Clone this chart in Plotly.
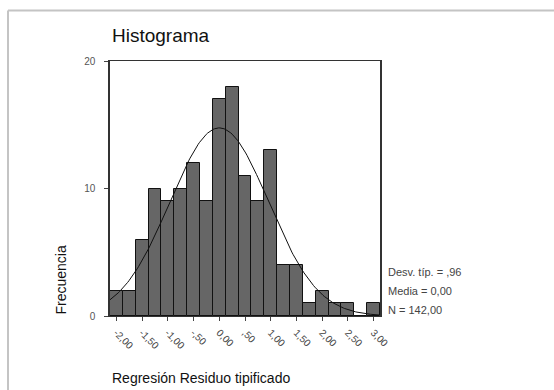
import numpy as np
import plotly.graph_objects as go

# histogram bins (centres) and counts
bin_centres = [-2.00, -1.75, -1.50, -1.25, -1.00, -0.75, -0.50, -0.25, 0.00, 0.25, 0.50,
               0.75, 1.00, 1.25, 1.50, 1.75, 2.00, 2.25, 2.50, 2.75, 3.00]
counts = [2, 2, 6, 10, 9, 10, 12, 9, 17, 18, 11, 9, 13, 4, 4, 1, 2, 1, 1, 0, 1]

tick_vals = [-2.0, -1.5, -1.0, -0.5, 0.0, 0.5, 1.0, 1.5, 2.0, 2.5, 3.0]
tick_text = ["-2,00", "-1,50", "-1,00", "-,50", "0,00", ",50", "1,00", "1,50", "2,00", "2,50", "3,00"]

# summary stats shown on the chart
media = 0.0
desv = 0.96
n_obs = 142
bin_width = 0.25

W, H = 554, 390
L, R, T, B = 110, 380, 61, 316   # plot area in pixels


def px_x(px):
    return (px - L) / (R - L)


def px_y(py):
    return (B - py) / (B - T)


# normal curve scaled to the histogram counts
xs = np.linspace(bin_centres[0] - bin_width / 2, bin_centres[-1] + bin_width / 2, 200)
ys = n_obs * bin_width / (desv * np.sqrt(2 * np.pi)) * np.exp(-0.5 * ((xs - media) / desv) ** 2)

fig = go.Figure()
fig.add_trace(go.Bar(
    x=bin_centres, y=counts, width=bin_width,
    marker=dict(color="#666666", line=dict(color="#111111", width=1)),
    hoverinfo="x+y"
))
fig.add_trace(go.Scatter(
    x=xs, y=ys, mode="lines",
    line=dict(color="#111111", width=1), hoverinfo="skip"
))

font = "Liberation Sans, Arial, sans-serif"
fig.update_layout(
    width=W, height=H,
    margin=dict(l=L, r=W - R, t=T, b=H - B),
    paper_bgcolor="white", plot_bgcolor="white",
    showlegend=False, bargap=0,
    font=dict(family=font, color="#333333"),
    xaxis=dict(
        range=[bin_centres[0] - bin_width / 2, bin_centres[-1] + bin_width / 2],
        tickvals=tick_vals, ticktext=tick_text, tickangle=45,
        ticks="outside", ticklen=4, tickcolor="#444444", ticklabelstandoff=2,
        tickfont=dict(size=10, color="#444444"),
        showline=True, mirror=True, linecolor="#333333", linewidth=1,
        showgrid=False, zeroline=False
    ),
    yaxis=dict(
        range=[0, 20], tickvals=[0, 10, 20], ticktext=["0", "10", "20"],
        ticks="outside", ticklen=4, tickcolor="#444444", ticklabelstandoff=7,
        tickfont=dict(size=10, color="#555555"),
        showline=True, mirror=True, linecolor="#333333", linewidth=1.5,
        showgrid=False, zeroline=False
    ),
)

annotations = [
    dict(text="Histograma", x=px_x(110), y=px_y(36), xanchor="left", yanchor="middle",
         font=dict(size=19, color="#111111")),
    dict(text="Frecuencia", x=px_x(60), y=px_y(317), xanchor="center", yanchor="bottom",
         textangle=-90, font=dict(size=14, color="#111111")),
    dict(text="Regresión Residuo tipificado", x=px_x(110), y=px_y(378), xanchor="left",
         yanchor="middle", font=dict(size=14, color="#111111")),
    dict(text="Desv. típ. = ,96", x=px_x(386), y=px_y(272), xanchor="left", yanchor="middle",
         font=dict(size=11, color="#444444")),
    dict(text="Media = 0,00", x=px_x(386), y=px_y(291), xanchor="left", yanchor="middle",
         font=dict(size=11, color="#444444")),
    dict(text="N = 142,00", x=px_x(386), y=px_y(310), xanchor="left", yanchor="middle",
         font=dict(size=11, color="#444444")),
]
for a in annotations:
    a.update(xref="paper", yref="paper", showarrow=False)
fig.update_layout(annotations=annotations)

# light grey outer frame (left and top edges)
fig.add_shape(type="line", xref="paper", yref="paper",
              x0=px_x(8), x1=px_x(8), y0=px_y(10.5), y1=px_y(H + 5),
              line=dict(color="#c4c4c4", width=2))
fig.add_shape(type="line", xref="paper", yref="paper",
              x0=px_x(8), x1=px_x(W + 5), y0=px_y(10.5), y1=px_y(10.5),
              line=dict(color="#c4c4c4", width=2))

# drop the browser's default body margin so the figure sits at the page origin
fig.write_html("out.html", config={"displayModeBar": False},
               post_script="document.body.style.margin='0';")
